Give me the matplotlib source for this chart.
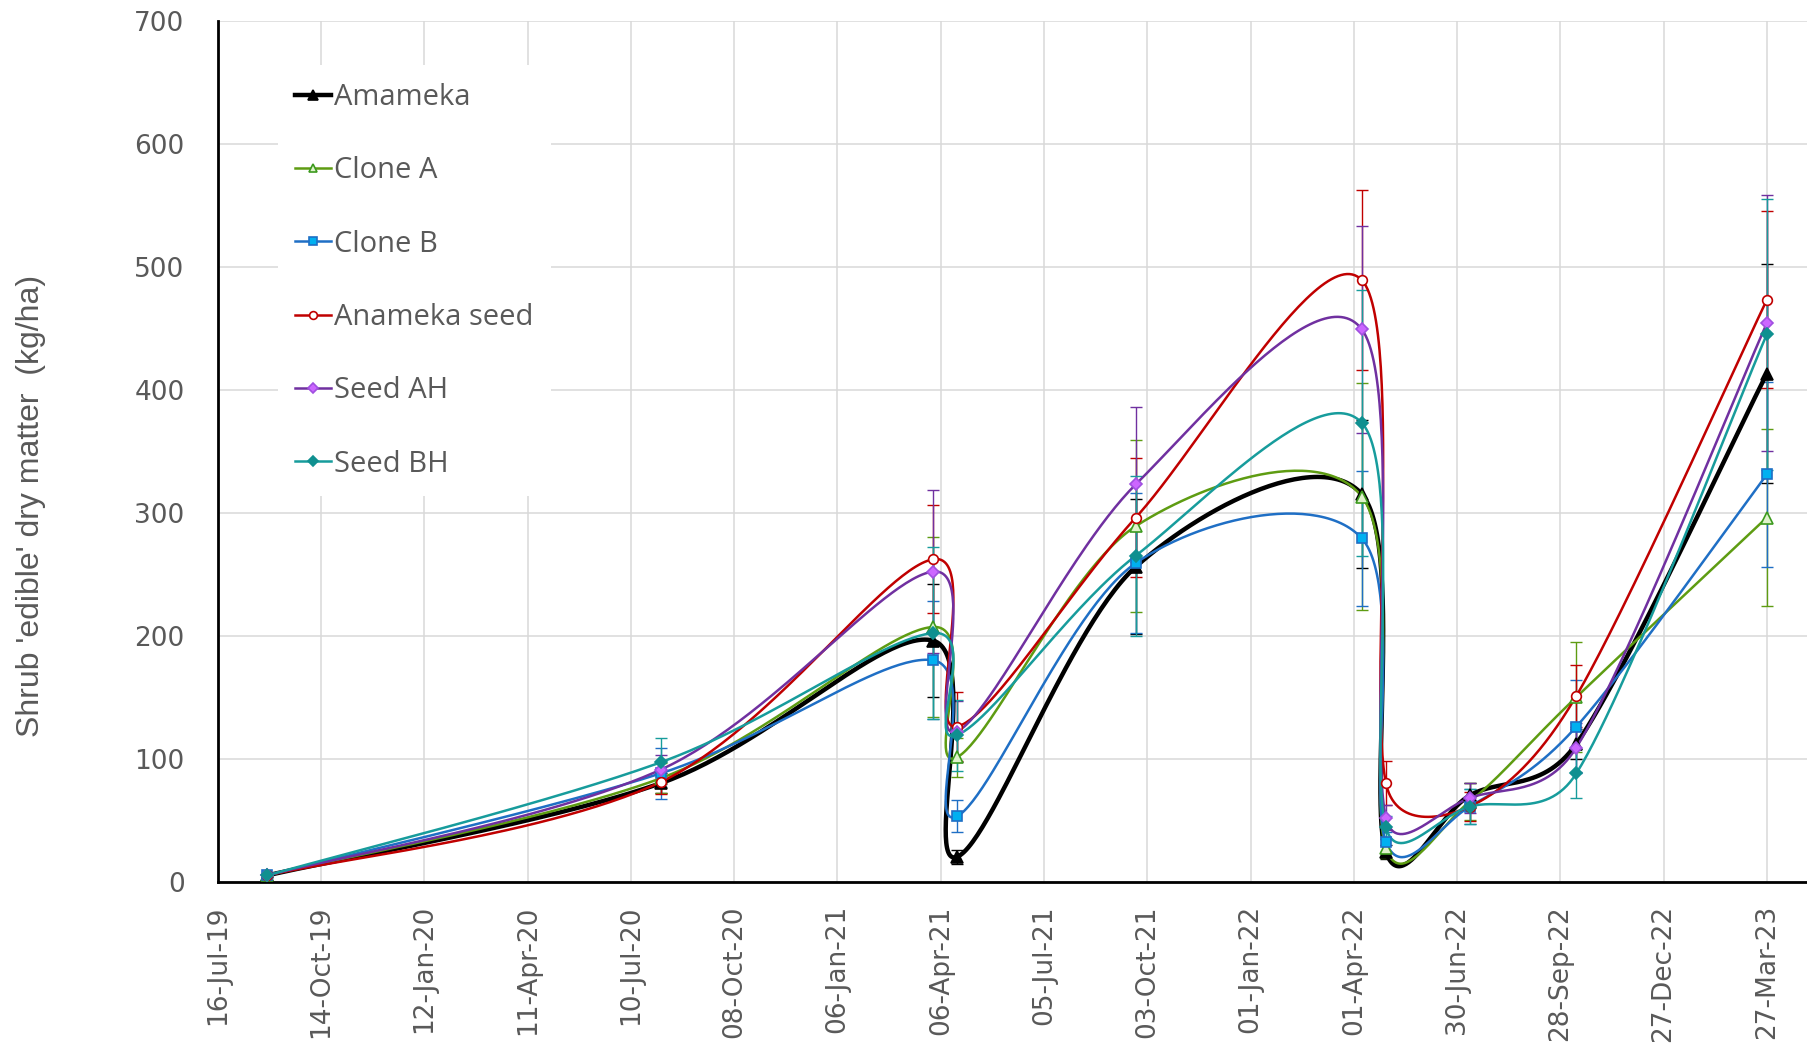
import numpy as np
import pandas as pd
import matplotlib
matplotlib.use("Agg")
import matplotlib.pyplot as plt
import matplotlib.dates as mdates
from matplotlib.lines import Line2D

# harvest dates and mean edible dry matter (kg/ha) with error bars
harvest_dates = ["2019-08-28", "2020-08-05", "2021-03-30", "2021-04-20", "2021-09-23",
                 "2022-04-08", "2022-04-29", "2022-07-11", "2022-10-12", "2023-03-27"]

series_names = ["Amameka", "Clone A", "Clone B", "Anameka seed", "Seed AH", "Seed BH"]

amameka = [5, 80, 196, 20, 256, 315, 24, 70, 112, 413]
clone_a = [5, 84, 207, 101, 289, 313, 27, 65, 150, 296]
clone_b = [5, 88, 180, 53, 259, 279, 32, 61, 126, 331]
anameka_seed = [5, 81, 262, 126, 296, 489, 80, 61, 151, 473]
seed_ah = [5, 91, 252, 122, 323, 449, 52, 68, 109, 454]
seed_bh = [5, 97, 202, 119, 265, 373, 44, 61, 88, 445]

amameka_err = [1, 8, 46, 6, 55, 60, 6, 10, 12, 89]
clone_a_err = [1, 12, 73, 16, 70, 92, 8, 15, 45, 72]
clone_b_err = [1, 21, 48, 13, 57, 55, 8, 14, 38, 75]
anameka_seed_err = [1, 10, 44, 28, 48, 73, 18, 12, 25, 72]
seed_ah_err = [1, 12, 66, 25, 63, 84, 10, 12, 20, 104]
seed_bh_err = [1, 20, 70, 29, 65, 108, 9, 14, 20, 110]

axis_start = "2019-07-16"
axis_end = "2023-05-01"
tick_step_days = 90

TEXT_GREY = "#595959"
GRID_GREY = "#d9d9d9"

styles = [
    dict(color="#000000", lw=3.2, marker="^", ms=9, mfc="#000000", mec="#000000"),
    dict(color="#5e9c12", lw=1.8, marker="^", ms=8, mfc="#dff2cc", mec="#3c9a1e"),
    dict(color="#1f6fc5", lw=1.8, marker="s", ms=7, mfc="#00b0f0", mec="#1f6fc5"),
    dict(color="#c00000", lw=1.8, marker="o", ms=7, mfc="#ffffff", mec="#c00000"),
    dict(color="#7030a0", lw=1.8, marker="D", ms=6.5, mfc="#cc66ff", mec="#a050e0"),
    dict(color="#179c9c", lw=1.8, marker="D", ms=6.5, mfc="#0f9090", mec="#0f9090"),
]


def smooth_curve(ax, xs, ys, steps=60):
    # bezier smoothing done in screen space, tangents capped at half the segment
    pts = ax.transData.transform(np.column_stack([xs, ys]))
    n = len(pts)
    t = np.linspace(0, 1, steps)[:, None]
    out = []
    for i in range(n - 1):
        p0 = pts[i - 1] if i > 0 else pts[i]
        p1 = pts[i]
        p2 = pts[i + 1]
        p3 = pts[i + 2] if i + 2 < n else pts[i + 1]
        d12 = np.hypot(*(p2 - p1))
        t1 = (p2 - p0) / 6.0
        t2 = (p3 - p1) / 6.0
        for tv in (t1, t2):
            ln = np.hypot(*tv)
            if ln > d12 / 2 and ln > 0:
                tv *= (d12 / 2) / ln
        c1 = p1 + t1
        c2 = p2 - t2
        seg = ((1 - t) ** 3) * p1 + 3 * ((1 - t) ** 2) * t * c1 + 3 * (1 - t) * t ** 2 * c2 + t ** 3 * p2
        out.append(seg if i == 0 else seg[1:])
    curve = np.vstack(out)
    return ax.transData.inverted().transform(curve)


fig = plt.figure(figsize=(18.07, 10.54), dpi=100)
ax = fig.add_axes([0.1206, 0.1636, 0.8794, 0.8168])

x0 = mdates.date2num(pd.Timestamp(axis_start))
x1 = mdates.date2num(pd.Timestamp(axis_end))
ax.set_xlim(x0, x1)
ax.set_ylim(0, 700)

xd = mdates.date2num(pd.to_datetime(harvest_dates))
values = [amameka, clone_a, clone_b, anameka_seed, seed_ah, seed_bh]
errors = [amameka_err, clone_a_err, clone_b_err, anameka_seed_err, seed_ah_err, seed_bh_err]

handles = []
for name, vals, errs, st in zip(series_names, values, errors, styles):
    ax.errorbar(xd, vals, yerr=errs, fmt="none", ecolor=st["color"], elinewidth=1.0,
                capsize=4, capthick=1.0, zorder=2)
    curve = smooth_curve(ax, xd, np.array(vals, dtype=float))
    ax.plot(curve[:, 0], curve[:, 1], color=st["color"], lw=st["lw"], zorder=3,
            solid_capstyle="round")
    ax.plot(xd, vals, linestyle="none", marker=st["marker"], ms=st["ms"],
            mfc=st["mfc"], mec=st["mec"], mew=1.2, zorder=4)
    handles.append(Line2D([], [], color=st["color"], lw=st["lw"], marker=st["marker"],
                          ms=st["ms"] * 0.8, mfc=st["mfc"], mec=st["mec"], mew=1.2, label=name))

# axes styling
ticks = np.arange(x0, x1 + 1, tick_step_days)
ax.set_xticks(ticks)
ax.xaxis.set_major_formatter(mdates.DateFormatter("%d-%b-%y"))
ax.set_yticks(np.arange(0, 701, 100))
ax.tick_params(axis="x", length=0, pad=17, labelsize=19, labelcolor=TEXT_GREY, labelrotation=90)
ax.tick_params(axis="y", length=0, pad=24, labelsize=19, labelcolor=TEXT_GREY)
for lab in ax.get_xticklabels():
    lab.set_ha("center")
    lab.set_va("top")

ax.grid(True, color=GRID_GREY, lw=1.1)
ax.set_axisbelow(True)
for side in ("top", "right"):
    ax.spines[side].set_visible(False)
for side in ("left", "bottom"):
    ax.spines[side].set_linewidth(2.0)
    ax.spines[side].set_color("black")

leg = ax.legend(handles=handles, loc="upper left", bbox_to_anchor=(0.0375, 0.948),
                borderaxespad=0, frameon=True, fancybox=False, framealpha=1,
                facecolor="white", edgecolor="none", handlelength=1.25, handletextpad=0.1,
                labelspacing=1.52, borderpad=0.6,
                prop={"family": ["Open Sans", "DejaVu Sans"], "size": 21})
for txt in leg.get_texts():
    txt.set_color(TEXT_GREY)

fig.text(0.0172, 0.520, "Shrub 'edible' dry matter  (kg/ha)", rotation=90,
         ha="center", va="center", color=TEXT_GREY, fontsize=23,
         family=["Liberation Sans Narrow", "Liberation Sans", "DejaVu Sans"])

fig.savefig("out.png", dpi=100)
